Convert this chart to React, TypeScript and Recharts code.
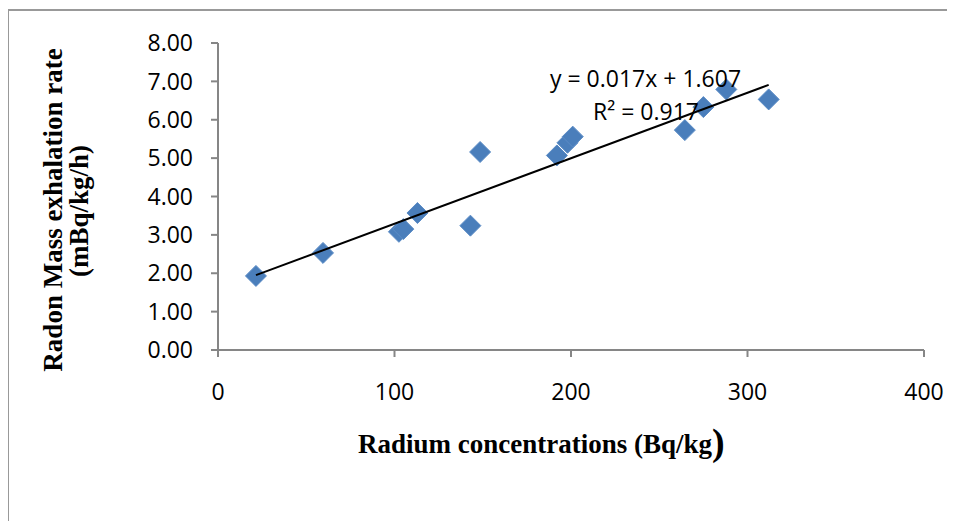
import React from "react";
import { ScatterChart, Scatter, XAxis, YAxis } from "recharts";

// Radium concentration (Bq/kg) vs radon mass exhalation rate (mBq/kg/h)
const radium = [21.5, 59.5, 102.5, 105, 113, 143, 148.5, 192, 198, 201, 264.5, 275, 288, 312];
const exhalation = [1.93, 2.53, 3.08, 3.15, 3.57, 3.24, 5.16, 5.07, 5.4, 5.56, 5.73, 6.33, 6.79, 6.53];

// fitted line ends as drawn (y = 0.017x + 1.607)
const trendX = [21.5, 312];
const trendY = [1.95, 6.91];

const xTicks = [0, 100, 200, 300, 400];
const yTicks = [0, 1, 2, 3, 4, 5, 6, 7, 8];

const points = radium.map((x, i) => ({ x, y: exhalation[i] }));
const trend = trendX.map((x, i) => ({ x, y: trendY[i] }));

const AXIS = "#868686";
const TICK_FONT = "'Open Sans', sans-serif";
const TITLE_FONT = "'Liberation Serif', 'Times New Roman', serif";

const Diamond = (props: any) => {
  const { cx, cy } = props;
  const r = 10.5;
  return (
    <path
      d={`M${cx},${cy - r}L${cx + r},${cy}L${cx},${cy + r}L${cx - r},${cy}Z`}
      fill="#4a7ebb"
      stroke="#5b8cc6"
      strokeWidth={1}
      strokeLinejoin="round"
    />
  );
};

const YTitle = () => (
  <g fontFamily={TITLE_FONT} fontWeight="bold" fontSize={27} fill="#000" textAnchor="middle">
    <text x={62} y={210} transform="rotate(-90 62 210)">Radon Mass exhalation rate</text>
    <text x={88} y={211} transform="rotate(-90 88 211)">(mBq/kg/h)</text>
  </g>
);

const XTitle = () => (
  <text x={358} y={453} fontFamily={TITLE_FONT} fontWeight="bold" fontSize={27} fill="#000">
    Radium concentrations (Bq/kg
    <tspan fontSize={38} dy={2}>)</tspan>
  </text>
);

export default function App() {
  return (
    <div style={{ position: "relative", width: 955, height: 529, margin: -8, background: "#fff", overflow: "hidden" }}>
      <div
        style={{
          position: "absolute",
          left: 7,
          top: 9,
          width: 1000,
          height: 600,
          borderLeft: `2.5px solid #999`,
          borderTop: `2.5px solid #999`,
        }}
      />
      <div style={{ position: "absolute", left: 0, top: 0 }}>
        <ScatterChart width={955} height={529} margin={{ top: 43, right: 31, bottom: 79, left: 88 }}>
          <XAxis
            type="number"
            dataKey="x"
            domain={[0, 400]}
            ticks={xTicks}
            height={100}
            stroke={AXIS}
            strokeWidth={2}
            tickSize={7}
            tickMargin={27}
            tick={{ fill: "#000", fontSize: 23, fontFamily: TICK_FONT }}
            label={{ content: XTitle }}
          />
          <YAxis
            type="number"
            dataKey="y"
            domain={[0, 8]}
            ticks={yTicks}
            width={130}
            stroke={AXIS}
            strokeWidth={2}
            tickSize={7}
            tickMargin={18}
            tickFormatter={(v: number) => v.toFixed(2)}
            tick={{ fill: "#000", fontSize: 23, fontFamily: TICK_FONT }}
            label={{ content: YTitle }}
          />
          <Scatter data={points} shape={Diamond} isAnimationActive={false} />
          <Scatter
            data={trend}
            line={{ stroke: "#000", strokeWidth: 2 }}
            shape={() => <g />}
            isAnimationActive={false}
          />
        </ScatterChart>
      </div>
      <svg width={955} height={529} style={{ position: "absolute", left: 0, top: 0, pointerEvents: "none" }}>
        <g fontFamily={TICK_FONT} fontSize={23} fill="#000">
          <text x={550} y={87}>y = 0.017x + 1.607</text>
          <text x={593} y={120}>R² = 0.917</text>
        </g>
      </svg>
    </div>
  );
}
